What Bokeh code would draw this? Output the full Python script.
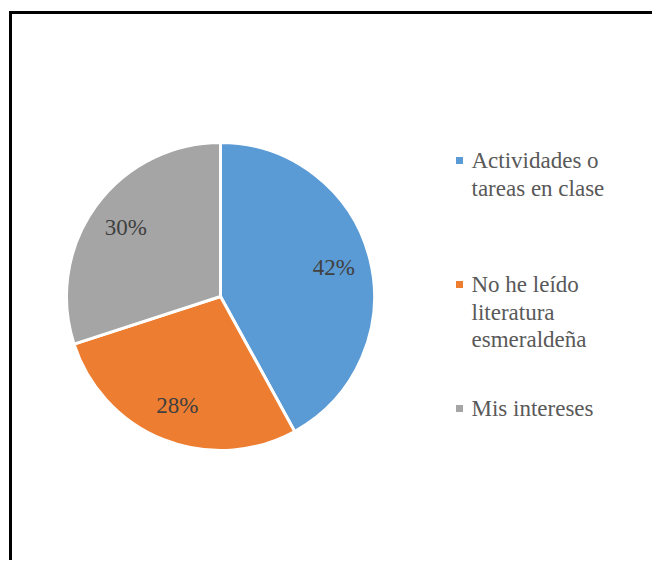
import numpy as np
from bokeh.plotting import figure
from bokeh.models import Range1d, ColumnDataSource
from bokeh.core.properties import value
from bokeh.embed import file_html
from bokeh.resources import INLINE

# ---- data ----
categories = ["Actividades o tareas en clase", "No he leído literatura esmeraldeña", "Mis intereses"]
legend_lines = [["Actividades o", "tareas en clase"],
                ["No he leído", "literatura", "esmeraldeña"],
                ["Mis intereses"]]
shares = [42, 28, 30]
colors = ["#5B9BD5", "#ED7D31", "#A5A5A5"]

# ---- layout (pixel-like data units) ----
W, H = 652, 560
cx, cy, R = 220, 264, 154
FONT = "Liberation Serif"

p = figure(width=W, height=H, x_range=Range1d(0, W), y_range=Range1d(0, H),
           output_backend="svg", toolbar_location=None, min_border=0)
p.axis.visible = False
p.grid.visible = False
p.outline_line_color = None
p.background_fill_color = "white"
p.border_fill_color = "white"

vals = np.array(shares, dtype=float)
frac = vals / vals.sum()
cum = np.concatenate([[0], np.cumsum(frac)])
start = np.pi / 2 - 2 * np.pi * cum[:-1]
end = np.pi / 2 - 2 * np.pi * cum[1:]
mid = (start + end) / 2

src = ColumnDataSource(dict(start=start, end=end, color=colors, cat=categories))
p.wedge(x=cx, y=cy, radius=R, start_angle="start", end_angle="end", direction="clock",
        fill_color="color", line_color="white", line_width=3, source=src)

# data labels
lab_x = list(cx + 0.76 * R * np.cos(mid))
lab_y = list(cy + 0.76 * R * np.sin(mid))
lab_t = [f"{v}%" for v in shares]
p.text(x=lab_x, y=lab_y, text=lab_t, text_align="center", text_baseline="middle",
       text_font=value(FONT), text_font_size="23px", text_color="#404040")

# legend (manual)
first_mid = 400
item_gap = 124
line_gap = 27.5
sq_x, sq_y, tx, ty, tt = [], [], [], [], []
for i, lines in enumerate(legend_lines):
    m = first_mid - i * item_gap
    sq_x.append(459)
    sq_y.append(m)
    for j, ln in enumerate(lines):
        tx.append(471)
        ty.append(m - j * line_gap)
        tt.append(ln)
p.scatter(x=sq_x, y=sq_y, marker="square", size=7, fill_color=colors, line_color=None)
p.text(x=tx, y=ty, text=tt, text_align="left", text_baseline="middle",
       text_font=value(FONT), text_font_size="23px", text_color="#595959")

# chart border (left and top visible, rest beyond the window)
p.line(x=[10, 10, W + 20], y=[-20, 548, 548], line_color="black", line_width=3, line_join="miter")

open("out.html", "w", encoding="utf-8").write(file_html(p, INLINE))
